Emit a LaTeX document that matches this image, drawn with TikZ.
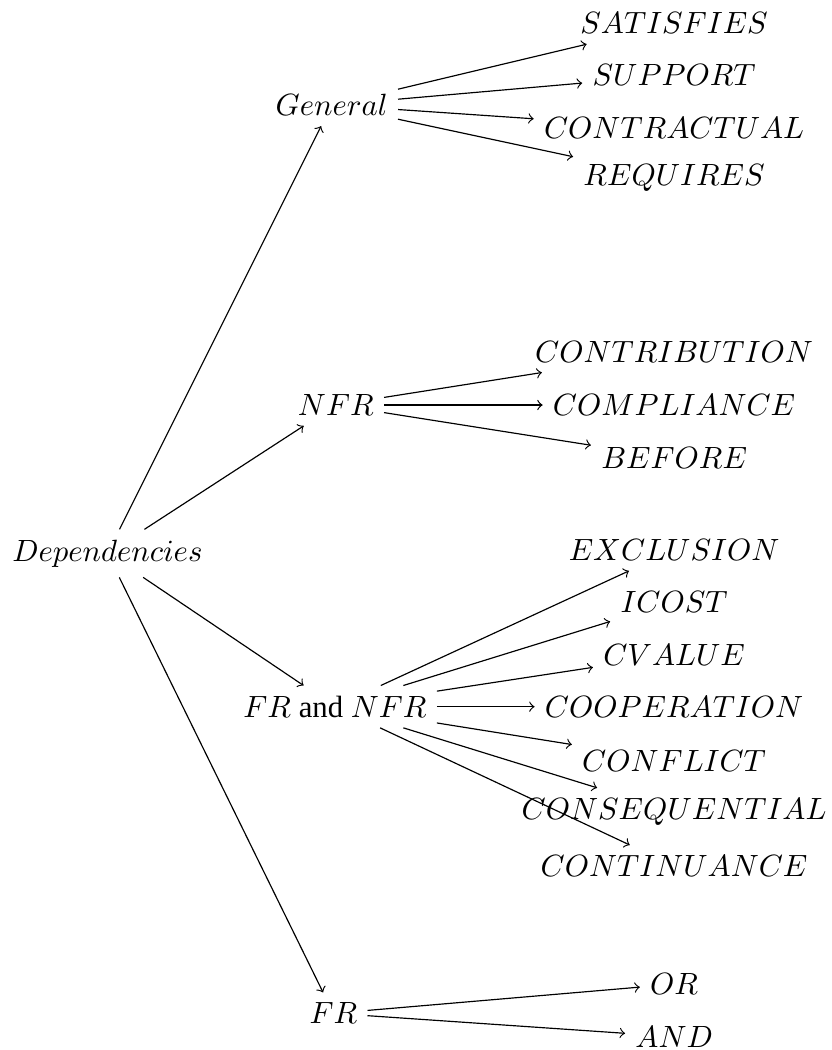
\documentclass[tikz,border=0pt]{standalone}
\usepackage{fix-cm}
\usepackage[no-math]{fontspec}
\setmainfont{Liberation Serif}
\usepackage{amsmath}

\begin{document}
\begin{tikzpicture}[every node/.style={font=\fontsize{10.5}{12.6}\selectfont}]
    \useasboundingbox (0,0) rectangle (9.984,-12.6);
    \node (dep) at (1.29,-6.64) {$Dependencies$};
    \node (general) at (3.98,-1.26) {$General$};
    \node (nfr) at (4.03,-4.86) {$NFR$};
    \node (frnfr) at (4.02,-8.48) {$FR$ and $NFR$};
    \node (fr) at (4.00,-12.16) {$FR$};
    \node (satisfies) at (8.09,-0.28) {$SATISFIES$};
    \node (support) at (8.09,-0.90) {$SUPPORT$};
    \node (contractual) at (8.09,-1.54) {$CONTRACTUAL$};
    \node (requires) at (8.09,-2.14) {$REQUIRES$};
    \node (contribution) at (8.09,-4.22) {$CONTRIBUTION$};
    \node (compliance) at (8.09,-4.86) {$COMPLIANCE$};
    \node (before) at (8.09,-5.50) {$BEFORE$};
    \node (exclusion) at (8.09,-6.60) {$EXCLUSION$};
    \node (icost) at (8.09,-7.22) {$ICOST$};
    \node (cvalue) at (8.09,-7.86) {$CVALUE$};
    \node (cooperation) at (8.09,-8.48) {$COOPERATION$};
    \node (conflict) at (8.09,-9.13) {$CONFLICT$};
    \node (consequential) at (8.09,-9.74) {$CONSEQUENTIAL$};
    \node (continuance) at (8.09,-10.39) {$CONTINUANCE$};
    \node (or) at (8.09,-11.81) {$OR$};
    \node (and) at (8.09,-12.44) {$AND$};
    \draw[->] (dep) -- (general);
    \draw[->] (dep) -- (nfr);
    \draw[->] (dep) -- (frnfr);
    \draw[->] (dep) -- (fr);
    \draw[->] (general) -- (satisfies);
    \draw[->] (general) -- (support);
    \draw[->] (general) -- (contractual);
    \draw[->] (general) -- (requires);
    \draw[->] (nfr) -- (contribution);
    \draw[->] (nfr) -- (compliance);
    \draw[->] (nfr) -- (before);
    \draw[->] (frnfr) -- (exclusion);
    \draw[->] (frnfr) -- (icost);
    \draw[->] (frnfr) -- (cvalue);
    \draw[->] (frnfr) -- (cooperation);
    \draw[->] (frnfr) -- (conflict);
    \draw[->] (frnfr) -- (consequential);
    \draw[->] (frnfr) -- (continuance);
    \draw[->] (fr) -- (or);
    \draw[->] (fr) -- (and);
\end{tikzpicture}
\end{document}
